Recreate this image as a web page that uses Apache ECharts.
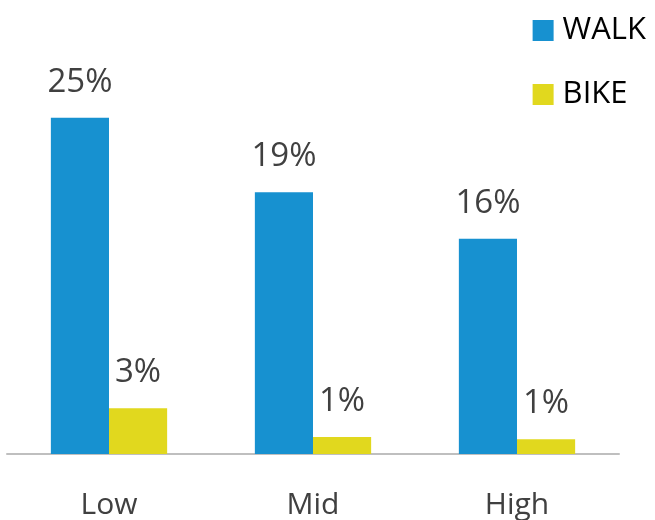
<!DOCTYPE html>
<html>
<head>
<meta charset="utf-8">
<script src="https://cdn.jsdelivr.net/npm/echarts@6/dist/echarts.min.js"></script>
<style>html,body{margin:0;padding:0;background:#fff}#c{width:655px;height:520px}</style>
</head>
<body>
<div id="c"></div>
<script>
var categories = ['Low', 'Mid', 'High'];
var walkValues = [25.0, 19.45, 16.0];
var bikeValues = [3.4, 1.26, 1.1];
var seriesNames = ['WALK', 'BIKE'];

var chart = echarts.init(document.getElementById('c'));
var labelStyle = {
  show: true,
  position: 'top',
  distance: 19,
  fontFamily: 'Open Sans',
  fontSize: 33,
  color: '#404040',
  formatter: function (p) { return Math.round(p.value) + '%'; }
};
chart.setOption({
  animation: false,
  grid: { left: 7, right: 36, top: 50.4, bottom: 64, containLabel: false },
  legend: {
    orient: 'vertical',
    right: 4,
    top: 10,
    icon: 'rect',
    itemWidth: 21,
    itemHeight: 21,
    itemGap: 33,
    textStyle: { fontFamily: 'Open Sans', fontSize: 31, lineHeight: 31, color: '#000', padding: [0, 0, 0, 4] },
    data: seriesNames
  },
  xAxis: {
    type: 'category',
    data: categories,
    axisLine: { lineStyle: { color: '#bfbfbf', width: 2 } },
    axisTick: { show: false },
    axisLabel: { fontFamily: 'Open Sans', fontSize: 30, color: '#404040', margin: 36 }
  },
  yAxis: {
    type: 'value', min: 0, max: 30,
    show: false,
    splitLine: { show: false }
  },
  series: [
    { name: seriesNames[0], type: 'bar', data: walkValues, barGap: '0%', barCategoryGap: '43%',
      itemStyle: { color: '#1791d0' }, label: labelStyle },
    { name: seriesNames[1], type: 'bar', data: bikeValues, barGap: '0%', barCategoryGap: '43%',
      itemStyle: { color: '#e1d81e' }, label: labelStyle }
  ]
});
</script>
</body>
</html>
